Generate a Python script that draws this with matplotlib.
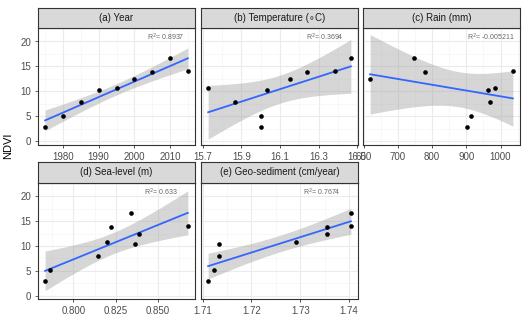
import numpy as np
import matplotlib
matplotlib.use("Agg")
import matplotlib.pyplot as plt
from matplotlib.ticker import FixedLocator

plt.rcParams['font.family'] = ['Liberation Sans', 'DejaVu Sans']

# ---------------- data ----------------
ndvi = [2.9, 5.1, 7.9, 10.3, 10.7, 12.5, 13.9, 16.6, 14.0]
year = [1975, 1980, 1985, 1990, 1995, 2000, 2005, 2010, 2015]
temperature = [16.00, 16.00, 15.866, 16.035, 15.728, 16.154, 16.239, 16.467, 16.386]
rain = [902, 913, 970, 962, 984, 619, 780, 746, 1036]
sea_level = [0.7832, 0.7862, 0.8145, 0.8366, 0.8201, 0.8389, 0.8221, 0.8342, 0.8678]
geo_sediment = [1.7111, 1.7124, 1.7133, 1.7133, 1.7292, 1.7355, 1.7355, 1.7404, 1.7404]

titles = ["(a) Year", "(b) Temperature (\u2218C)", "(c) Rain (mm)",
          "(d) Sea-level (m)", "(e) Geo-sediment (cm/year)"]
r2_labels = ["0.8937", "0.3694", "-0.005211", "0.633", "0.7674"]
x_series = [year, temperature, rain, sea_level, geo_sediment]
x_ticks = [[1980, 1990, 2000, 2010],
           [15.7, 15.9, 16.1, 16.3, 16.5],
           [600, 700, 800, 900, 1000],
           [0.800, 0.825, 0.850],
           [1.71, 1.72, 1.73, 1.74]]
x_ticklabels = [["1980", "1990", "2000", "2010"],
                ["15.7", "15.9", "16.1", "16.3", "16.5"],
                ["600", "700", "800", "900", "1000"],
                ["0.800", "0.825", "0.850"],
                ["1.71", "1.72", "1.73", "1.74"]]
y_ticks = [0, 5, 10, 15, 20]
y_ticklabels = ["0", "5", "10", "15", "20"]

T975_DF7 = 2.3646  # Student t quantile, 95% CI, df = n - 2 = 7

# ---------------- layout (pixels) ----------------
W, H = 525, 321
fig = plt.figure(figsize=(W / 100, H / 100), dpi=100)

cols = [(38, 195), (201, 358), (363, 520)]
rows = [((8, 28), (28, 145)), ((162, 183), (183, 299))]
positions = [(0, 0), (0, 1), (0, 2), (1, 0), (1, 1)]
r2_xfrac = [0.935, 0.91, 0.968, 0.89, 0.89]

def rect(x0, x1, y0, y1):
    return [x0 / W, 1 - y1 / H, (x1 - x0) / W, (y1 - y0) / H]

border_col = "#333333"
grid_major = "#EBEBEB"
grid_minor = "#F5F5F5"
tick_col = "#4D4D4D"

for i, (r, c) in enumerate(positions):
    (sy0, sy1), (py0, py1) = rows[r]
    x0, x1 = cols[c]
    ax = fig.add_axes(rect(x0, x1, py0, py1))
    sax = fig.add_axes(rect(x0, x1, sy0, sy1))

    x = np.array(x_series[i], dtype=float)
    y = np.array(ndvi, dtype=float)
    n = len(x)
    b, a = np.polyfit(x, y, 1)
    xs = np.linspace(x.min(), x.max(), 80)
    yhat = a + b * xs
    resid = y - (a + b * x)
    sigma = np.sqrt(np.sum(resid ** 2) / (n - 2))
    sxx = np.sum((x - x.mean()) ** 2)
    se = sigma * np.sqrt(1 / n + (xs - x.mean()) ** 2 / sxx)
    ax.fill_between(xs, yhat - T975_DF7 * se, yhat + T975_DF7 * se,
                    color="#999999", alpha=0.4, linewidth=0, zorder=2)
    ax.plot(xs, yhat, color="#3366FF", linewidth=1.3, zorder=3)
    ax.scatter(x, y, s=11, color="black", zorder=4, linewidths=0)

    rng = x.max() - x.min()
    ax.set_xlim(x.min() - 0.05 * rng, x.max() + 0.05 * rng)
    ax.set_ylim(-0.7, 22.7)

    xt = x_ticks[i]
    ax.set_xticks(xt)
    ax.set_xticklabels(x_ticklabels[i])
    xminor = [(xt[k] + xt[k + 1]) / 2 for k in range(len(xt) - 1)]
    step = xt[1] - xt[0]
    xminor = [xt[0] - step / 2] + xminor + [xt[-1] + step / 2]
    ax.xaxis.set_minor_locator(FixedLocator(xminor))
    ax.set_yticks(y_ticks)
    ax.yaxis.set_minor_locator(FixedLocator([2.5, 7.5, 12.5, 17.5, 22.5]))
    if c == 0:
        ax.set_yticklabels(y_ticklabels)
    else:
        ax.tick_params(axis='y', which='both', left=False, labelleft=False)

    ax.grid(True, which='major', color=grid_major, linewidth=0.8, zorder=0)
    ax.grid(True, which='minor', color=grid_minor, linewidth=0.5, zorder=0)
    ax.set_axisbelow(True)
    ax.tick_params(axis='both', which='major', labelsize=7, colors=tick_col,
                   length=2.5, width=0.6, pad=2.5)
    ax.tick_params(axis='both', which='minor', length=0)
    ax.tick_params(axis='x', which='major', labelcolor=tick_col, color=border_col)
    for sp in ax.spines.values():
        sp.set_color(border_col)
        sp.set_linewidth(0.8)

    ax.text(r2_xfrac[i], 0.92, "R$^2$= " + r2_labels[i], transform=ax.transAxes,
            ha='right', va='center', fontsize=5, color="#666666")

    sax.set_facecolor("#D9D9D9")
    sax.set_xticks([])
    sax.set_yticks([])
    for sp in sax.spines.values():
        sp.set_color(border_col)
        sp.set_linewidth(0.8)
    sax.text(0.5, 0.5, titles[i], transform=sax.transAxes, ha='center', va='center',
             fontsize=7, color="#1A1A1A")

fig.text(8 / W, 1 - 146 / H, "NDVI", rotation=90, ha='center', va='center',
         fontsize=8, color="black")

fig.savefig("out.png", dpi=100)
